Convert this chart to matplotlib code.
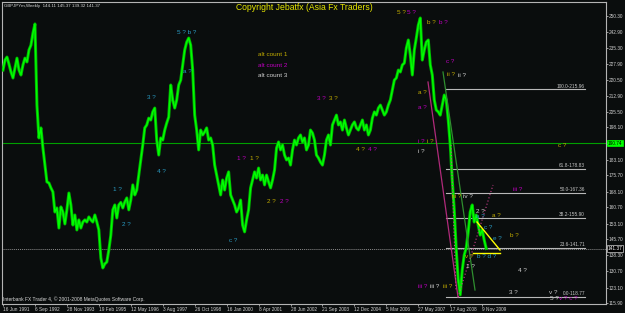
import matplotlib
matplotlib.use("Agg")
import matplotlib.pyplot as plt
import numpy as np

# ---------------- data ----------------
# GBPJPY weekly closes, one value every 4 weeks starting 16 Jun 1991
prices = [
    225.0, 229.7, 231.1, 227.8, 224.1, 221.3, 226.0, 230.6, 225.0, 222.7,
    227.4, 230.6, 228.8, 234.4, 236.7, 242.3, 246.6, 208.6, 193.2, 197.9,
    188.5, 180.5, 172.6, 172.1, 169.8, 167.9, 158.5, 160.4, 151.0, 160.9,
    158.5, 152.9, 159.5, 167.4, 161.8, 152.4, 157.1, 150.1, 154.8, 151.0,
    153.8, 154.8, 153.8, 156.2, 154.8, 153.8, 157.1, 153.8, 150.1, 137.0,
    132.3, 134.2, 135.1, 140.7, 147.7, 159.5, 161.8, 155.7, 161.8, 163.0,
    160.4, 163.2, 165.1, 159.5, 164.1, 171.2, 166.5, 168.8, 175.8, 182.9,
    189.9, 197.9, 199.3, 202.5, 201.6, 205.4, 207.2, 192.2, 185.2, 193.2,
    192.2, 196.9, 200.2, 203.0, 218.0, 211.0, 207.2, 211.0, 218.0, 220.3,
    227.4, 234.4, 238.1, 240.0, 236.7, 225.0, 203.9, 196.9, 187.6, 196.9,
    194.6, 196.0, 197.9, 192.2, 193.2, 189.9, 180.5, 175.8, 171.2, 166.5,
    173.5, 168.8, 174.4, 177.3, 166.5, 164.1, 161.8, 158.5, 160.4, 164.1,
    152.4, 149.2, 154.8, 159.5, 169.8, 173.5, 177.3, 174.4, 179.1, 173.5,
    175.8, 171.2, 175.8, 172.6, 169.8, 173.5, 178.2, 188.5, 191.3, 187.6,
    189.9, 185.2, 182.9, 183.8, 180.5, 187.6, 192.2, 189.9, 193.2, 194.6,
    191.3, 193.2, 187.6, 189.9, 196.9, 195.5, 192.2, 185.2, 183.8, 181.9,
    180.5, 185.2, 192.2, 194.6, 189.9, 199.3, 201.6, 203.9, 199.3, 200.7,
    196.9, 201.6, 197.9, 194.6, 196.9, 199.3, 200.7, 197.9, 196.9, 199.3,
    201.6, 196.9, 199.3, 194.6, 196.9, 202.5, 205.4, 203.9, 207.2, 208.6,
    206.3, 203.9, 205.4, 208.6, 211.0, 215.7, 220.3, 221.3, 225.0, 224.1,
    227.4, 228.3, 235.3, 239.1, 232.0, 222.7, 234.4, 240.0, 246.1, 249.4,
    229.7, 234.4, 238.1, 239.1, 227.4, 222.7, 211.0, 206.3, 205.4, 203.9,
    208.6, 213.3, 211.0, 201.6, 189.9, 173.5, 159.5, 140.7, 126.7, 119.7,
    131.4, 138.4, 141.7, 149.2, 158.5, 161.8, 153.8, 157.1, 152.4, 147.7,
    150.1, 145.4, 141.4,
]
week_step = 4

date_labels = ["16 Jun 1991", "6 Sep 1992", "28 Nov 1993", "19 Feb 1995",
               "12 May 1996", "3 Aug 1997", "26 Oct 1998", "16 Jan 2000",
               "8 Apr 2001", "28 Jun 2002", "21 Sep 2003", "12 Dec 2004",
               "5 Mar 2006", "27 May 2007", "17 Aug 2008", "9 Nov 2009"]
date_step_weeks = 64

price_ticks = [250.30, 242.90, 235.30, 227.90, 220.50, 212.90, 205.50, 198.10,
               190.50, 183.10, 175.70, 168.10, 160.70, 153.10, 145.70, 138.30,
               130.70, 123.10, 115.90]

fib_levels = [215.96, 178.83, 167.36, 155.90, 141.71, 118.77]
fib_pcts = ["100.0", "61.8", "50.0", "38.2", "23.6", "0.0"]

hline_green = 190.74
last_price = 141.37

# ---------------- figure ----------------
W, H = 625, 313
BG = "#0a0d0d"
fig = plt.figure(figsize=(W / 100, H / 100), dpi=100, facecolor=BG)
L, R, T, B = 2, 606, 2, 304
ax = fig.add_axes([L / W, 1 - B / H, (R - L) / W, (B - T) / H], facecolor=BG)

XMIN, XMAX = -2, 1208
YMIN, YMAX = 115.4, 256.9
ax.set_xlim(XMIN, XMAX)
ax.set_ylim(YMIN, YMAX)


def P(xp, yp):
    """pixel position -> data coordinates (for annotations)"""
    x = XMIN + (xp - L) / (R - L) * (XMAX - XMIN)
    y = YMAX - (yp - T) / (B - T) * (YMAX - YMIN)
    return x, y


weeks = np.arange(len(prices)) * week_step
ax.plot(weeks, prices, color="#00b400", lw=2.2, zorder=3)
ax.plot(weeks, prices, color="#00ff00", lw=1.0, zorder=4)

# horizontal lines
ax.axhline(hline_green, color="#00a000", lw=0.8, zorder=2)
ax.axhline(last_price, color="#8a8a8a", lw=0.7, ls=(0, (1, 1)), zorder=2)

# fib levels
fx0, _ = P(446, 0)
fx1, _ = P(585, 0)
for lv, pc in zip(fib_levels, fib_pcts):
    ax.plot([fx0, fx1], [lv, lv], color="#b8b8b8", lw=0.8, zorder=2)
    ax.text(fx1, lv + 0.4, f"{pc}-{lv:.2f}", color="#c8c8c8", fontsize=3.4,
            ha="right", va="bottom", family="Liberation Sans", zorder=5)

# trend lines
def seg(p0, p1, **kw):
    a = P(*p0)
    b = P(*p1)
    ax.plot([a[0], b[0]], [a[1], b[1]], zorder=5, **kw)

seg((428, 82), (458, 297), color="#b02a7a", lw=0.9)
seg((443, 72), (475, 290), color="#2f8f2f", lw=0.9)
seg((458, 297), (493, 185), color="#d04090", lw=0.8, ls=(0, (1, 2)))
seg((451, 145), (456, 290), color="#d04090", lw=0.8, ls=(0, (1, 2)))
seg((477, 222), (500, 250), color="#ffff00", lw=1.0)
seg((473, 253), (500, 253), color="#ffff00", lw=1.0)

# wave labels
TEAL, OLIVE, MAG, WHITE = "#2a9cc4", "#c2ac00", "#c000c0", "#d0d0d0"
labels = [
    (147, 97, "3 ?", TEAL), (177, 33, "5 ? b ?", TEAL), (183, 72, "a ?", TEAL),
    (113, 190, "1 ?", TEAL), (122, 225, "2 ?", TEAL), (157, 172, "4 ?", TEAL),
    (229, 241, "c ?", TEAL), (476, 217, "a ?", TEAL), (484, 227, "c ?", TEAL),
    (493, 238, "e ?", TEAL), (477, 257, "b ? d ?", TEAL),
    (476, 212, "2 ?", WHITE), (466, 267, "1 ?", WHITE), (518, 271, "4 ?", WHITE),
    (509, 292, "3 ?", WHITE), (549, 292, "v ?", WHITE), (550, 299, "5 ?", WHITE),
    (458, 75, "ii ?", WHITE), (418, 152, "i ?", WHITE), (430, 287, "iii ?", WHITE),
    (463, 196, "iv ?", WHITE),
    (397, 12, "5 ?", OLIVE), (427, 23, "b ?", OLIVE), (447, 74, "ii ?", OLIVE),
    (418, 92, "a ?", OLIVE), (427, 142, "i ?", OLIVE), (356, 150, "4 ?", OLIVE),
    (329, 99, "3 ?", OLIVE), (250, 159, "1 ?", OLIVE), (267, 201, "2 ?", OLIVE),
    (443, 287, "iii ?", OLIVE), (452, 196, "iii ?", OLIVE), (465, 257, "v ?", OLIVE),
    (492, 215, "a ?", OLIVE), (510, 235, "b ?", OLIVE), (558, 145, "c ?", OLIVE),
    (407, 12, "5 ?", MAG), (439, 23, "b ?", MAG), (446, 61, "c ?", MAG),
    (418, 107, "a ?", MAG), (418, 142, "i ?", MAG), (368, 150, "4 ?", MAG),
    (317, 99, "3 ?", MAG), (237, 159, "1 ?", MAG), (280, 201, "2 ?", MAG),
    (418, 287, "iii ?", MAG), (513, 189, "iii ?", MAG), (559, 299, "v ? c ?", MAG),
]
for xp, yp, s, c in labels:
    x, y = P(xp, yp)
    ax.text(x, y, s, color=c, fontsize=4.6, ha="left", va="center",
            family="Liberation Sans", zorder=6)

for i, (s, c) in enumerate([("alt count 1", OLIVE), ("alt count 2", MAG),
                            ("alt count 3", WHITE)]):
    x, y = P(258, 54 + 11 * i)
    ax.text(x, y, s, color=c, fontsize=4.6, ha="left", va="center",
            family="Liberation Sans", zorder=6)

fig.text(236 / W, 1 - 8 / H, "Copyright Jebatfx (Asia Fx Traders)", color="#e6e600",
         fontsize=6.2, ha="left", va="center", family="Liberation Sans")
fig.text(4 / W, 1 - 6 / H, "GBPJPYm,Weekly  144.11 145.37 139.32 141.37",
         color="#d8d8d8", fontsize=3.2, ha="left", va="center", family="Liberation Sans")
fig.text(3 / W, 1 - 299 / H,
         "Interbank FX Trader 4, \u00a9 2001-2008 MetaQuotes Software Corp.",
         color="#d8d8d8", fontsize=3.5, ha="left", va="center", family="Liberation Sans")

# axes styling
for sp in ax.spines.values():
    sp.set_color("#b4b4b4")
    sp.set_linewidth(0.8)

ax.yaxis.tick_right()
ax.set_yticks(price_ticks)
ax.set_yticklabels([f"{v:.2f}" for v in price_ticks], family="Liberation Sans")
ax.tick_params(axis="y", direction="out", length=1.5, width=0.6, color="#b4b4b4",
               labelsize=3.4, labelcolor="#d0d0d0", pad=0.6)
xt = np.arange(len(date_labels)) * date_step_weeks
ax.set_xticks(xt)
ax.set_xticklabels(date_labels, ha="left", family="Liberation Sans")
ax.tick_params(axis="x", direction="out", length=1.5, width=0.6, color="#b4b4b4",
               labelsize=3.4, labelcolor="#d0d0d0", pad=0.8)

# price boxes on the right axis
ax.text(1.003, (hline_green - YMIN) / (YMAX - YMIN), f"{hline_green:.2f}",
        transform=ax.transAxes, fontsize=3.4, color="#000000", ha="left", va="center",
        family="Liberation Sans",
        bbox=dict(boxstyle="square,pad=0.15", fc="#00ff00", ec="#00ff00", lw=0.5),
        zorder=10, clip_on=False)
ax.text(1.003, (last_price - YMIN) / (YMAX - YMIN), f"{last_price:.2f}",
        transform=ax.transAxes, fontsize=3.4, color="#ffffff", ha="left", va="center",
        family="Liberation Sans",
        bbox=dict(boxstyle="square,pad=0.15", fc="#000000", ec="#d0d0d0", lw=0.5),
        zorder=10, clip_on=False)

fig.savefig("out.png", dpi=100, facecolor=BG)
